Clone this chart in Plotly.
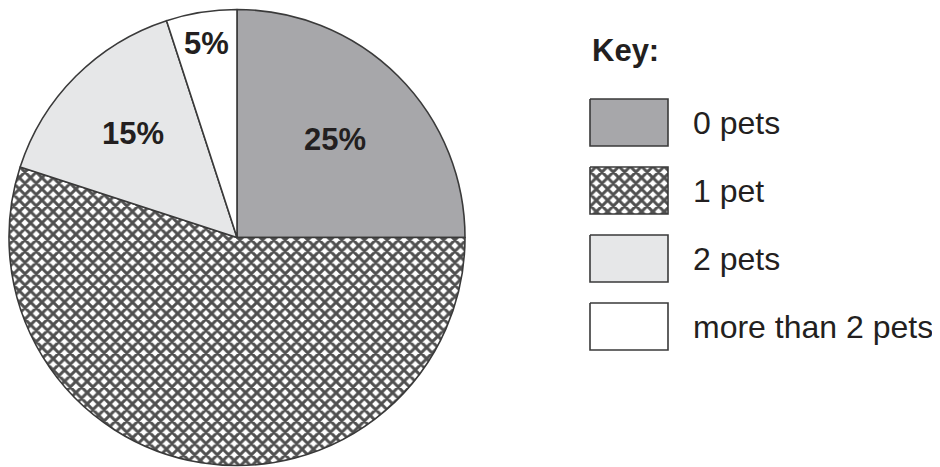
import math
import plotly.graph_objects as go

categories = ["0 pets", "1 pet", "2 pets", "more than 2 pets"]
percentages = [25, 55, 15, 5]
show_label = [True, False, True, True]
label_radius = [0.61, 0.0, 0.645, 0.86]

fills = ["#a7a7aa", "#ffffff", "#e6e7e8", "#ffffff"]
patterns = ["", "x", "", ""]
edge = "#3a3a3a"
text_col = "#231f20"
FONT = "Liberation Sans, Arial, sans-serif"

# the page body has an 8px margin; work in page pixel coordinates and shift
OFF = 8
W, H = 940 - OFF, 467 - OFF
cx, cy, R = 237 - OFF, 237.5 - OFF, 228

PAT = dict(fgcolor="#505050", bgcolor="#ffffff", size=8, solidity=0.6, fillmode="replace")

fig = go.Figure()
fig.add_trace(go.Pie(
    labels=categories, values=percentages, sort=False, direction="clockwise",
    rotation=0, textinfo="none", hoverinfo="label+percent", showlegend=False,
    domain=dict(x=[(cx - R) / W, (cx + R) / W], y=[(H - cy - R) / H, (H - cy + R) / H]),
    marker=dict(colors=fills, line=dict(color=edge, width=1.6),
                pattern=dict(shape=patterns, **PAT)),
))

annotations = []
total = sum(percentages)
cum = 0
for cat, p, show, fr in zip(categories, percentages, show_label, label_radius):
    mid = (cum + p / 2) / total * 2 * math.pi
    cum += p
    if not show:
        continue
    annotations.append(dict(
        x=cx + fr * R * math.sin(mid), y=cy - fr * R * math.cos(mid), xref="x", yref="y",
        text=f"<b>{p}%</b>", showarrow=False,
        font=dict(family=FONT, size=31, color=text_col), xanchor="center", yanchor="middle"))

# Key
annotations.append(dict(x=590 - OFF, y=50 - OFF, xref="x", yref="y", text="<b>Key:</b>",
                        showarrow=False, font=dict(family=FONT, size=31, color=text_col),
                        xanchor="left", yanchor="middle"))

box_x0, box_x1 = 590 - OFF, 668 - OFF
box_tops = [99 - OFF, 167 - OFF, 235 - OFF, 303 - OFF]
box_h = 47
for cat, col, pat, top in zip(categories, fills, patterns, box_tops):
    fig.add_trace(go.Scatter(
        x=[box_x0, box_x1, box_x1, box_x0, box_x0], y=[top, top, top + box_h, top + box_h, top],
        mode="lines", fill="toself", fillcolor=col if not pat else "#ffffff",
        fillpattern=dict(shape=pat, **PAT) if pat else None,
        line=dict(color=edge, width=1.6), hoverinfo="skip", showlegend=False))
    annotations.append(dict(x=691 - OFF, y=top + box_h / 2, xref="x", yref="y", text=cat,
                            showarrow=False, font=dict(family=FONT, size=32, color=text_col),
                            xanchor="left", yanchor="middle"))

fig.update_layout(
    width=W, height=H, margin=dict(l=0, r=0, t=0, b=0),
    paper_bgcolor="white", plot_bgcolor="rgba(0,0,0,0)",
    xaxis=dict(range=[0, W], domain=[0, 1], visible=False, fixedrange=True),
    yaxis=dict(range=[H, 0], domain=[0, 1], visible=False, fixedrange=True),
    annotations=annotations,
)
fig.write_html("out.html")
